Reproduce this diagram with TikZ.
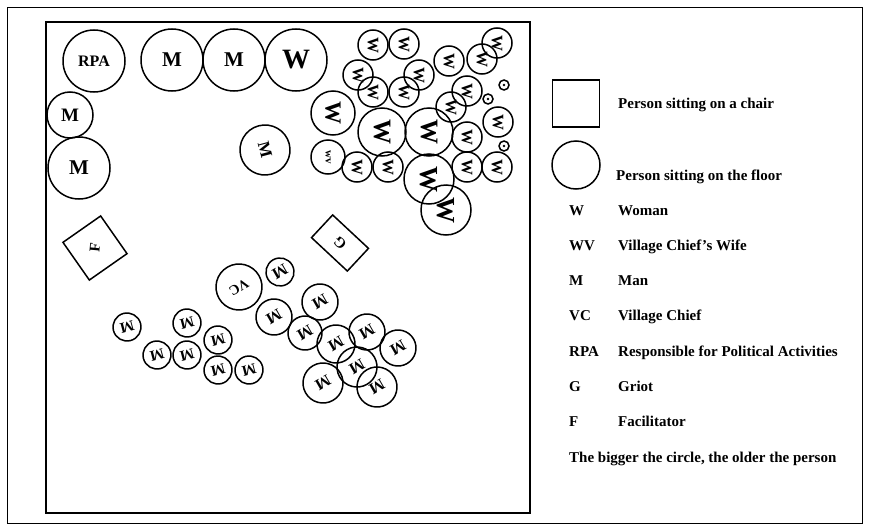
\documentclass[tikz,border=0pt]{standalone}
\usepackage{fontspec}
\setmainfont{Liberation Serif}
\newcommand\fsz[1]{\fontsize{#1}{#1}\selectfont\bfseries}
\tikzset{
  floor/.style={circle, draw, line width=1.5pt, inner sep=0pt},
  chair/.style={rectangle, draw, line width=1.5pt, inner sep=0pt},
  legend/.style={anchor=west, inner sep=0pt, text height=10pt, text depth=3pt, font=\fsz{15}},
}
\begin{document}
\begin{tikzpicture}[x=1pt, y=-1pt]
  \useasboundingbox (0,0) rectangle (869,530);
  \draw[line width=0.8pt] (7,7) rectangle (862,523);
  \draw[line width=1.6pt] (46,22) rectangle (530,513);
  %along the wall
  \node[floor, minimum size=62, font=\fsz{16}] (rpa) at (94,61) {RPA};
  \node[floor, minimum size=62, font=\fsz{21}] (m1) at (172,60) {M};
  \node[floor, minimum size=62, font=\fsz{21}] (m2) at (234,60) {M};
  \node[floor, minimum size=62, font=\fsz{28}] (w0) at (296,60) {W};
  \node[floor, minimum size=46, font=\fsz{19}] (m3) at (70,115) {M};
  \node[floor, minimum size=62, font=\fsz{21}] (m4) at (79,168) {M};
  \node[floor, minimum size=50, font=\fsz{17}, rotate=-75] (m5) at (265,150) {M};
  %women
  \foreach \x/\y/\r/\s [count=\i] in {373/45/15/16, 404/44/15/16, 449/61/15/16,
      482/59/15/16, 497/43/15/16, 358/75/15/16, 373/92/15/16, 404/92/15/16,
      419/75/15/16, 467/91/15/16, 451/107/15/16, 498/122/15/16, 467/137/15/16,
      357/167/15/16, 388/167/15/16, 467/167/15/16, 497/167/15/16,
      333/113/22/23, 382/132/24/25, 429/132/24/25, 429/179/25/26, 446/210/25/26}
    \node[floor, minimum size=2*\r, font=\fsz{\s}, rotate=-90] (w\i) at (\x,\y) {W};
  \node[floor, minimum size=34, font=\fsz{11}, rotate=-90] (wv) at (328,157) {wv};
  \foreach \x/\y [count=\i] in {504/85, 488/99, 504/146}
  {
    \node[floor, minimum size=10] (dot\i) at (\x,\y) {};
    \fill (dot\i) circle (1.3);
  }
  %chairs
  \node[chair, minimum size=46, font=\fsz{15}, rotate=35] (f) at (95,248) {\rotatebox{50}{F}};
  \node[chair, minimum width=49, minimum height=31, font=\fsz{15}, rotate=-43] (g) at (340,243) {\rotatebox{180}{G}};
  %men
  \node[floor, minimum size=46, font=\fsz{14}, rotate=210] (vc) at (239,287) {VC};
  \foreach \x/\y/\r [count=\i] in {280/272/14, 320/302/18, 274/317/18, 305/333/17,
      336/344/19, 367/332/18, 398/348/18, 357/367/20, 323/383/20, 377/387/20}
    \node[floor, minimum size=2*\r, font=\fsz{16}, rotate=210] (mr\i) at (\x,\y) {M};
  \foreach \x/\y [count=\i] in {127/327, 187/323, 157/355, 187/355, 218/340,
      218/370, 249/370}
    \node[floor, minimum size=28, font=\fsz{15}, rotate=195] (ml\i) at (\x,\y) {M};
  %legend
  \node[chair, minimum size=47] (lchair) at (576,103.5) {};
  \node[legend] (tchair) at (618,105) {Person sitting on a chair};
  \node[floor, minimum size=48] (lfloor) at (576,165) {};
  \node[legend] (tfloor) at (616,177) {Person sitting on the floor};
  \foreach \ab/\txt/\y [count=\i] in {W/Woman/212, WV/Village Chief's Wife/247,
      M/Man/282, VC/Village Chief/317, RPA/Responsible for Political Activities/353,
      G/Griot/388, F/Facilitator/423}
  {
    \node[legend] (ab\i) at (569,\y) {\ab};
    \node[legend] (txt\i) at (618,\y) {\txt};
  }
  \node[legend] (note) at (569,459) {The bigger the circle, the older the person};
\end{tikzpicture}
\end{document}
